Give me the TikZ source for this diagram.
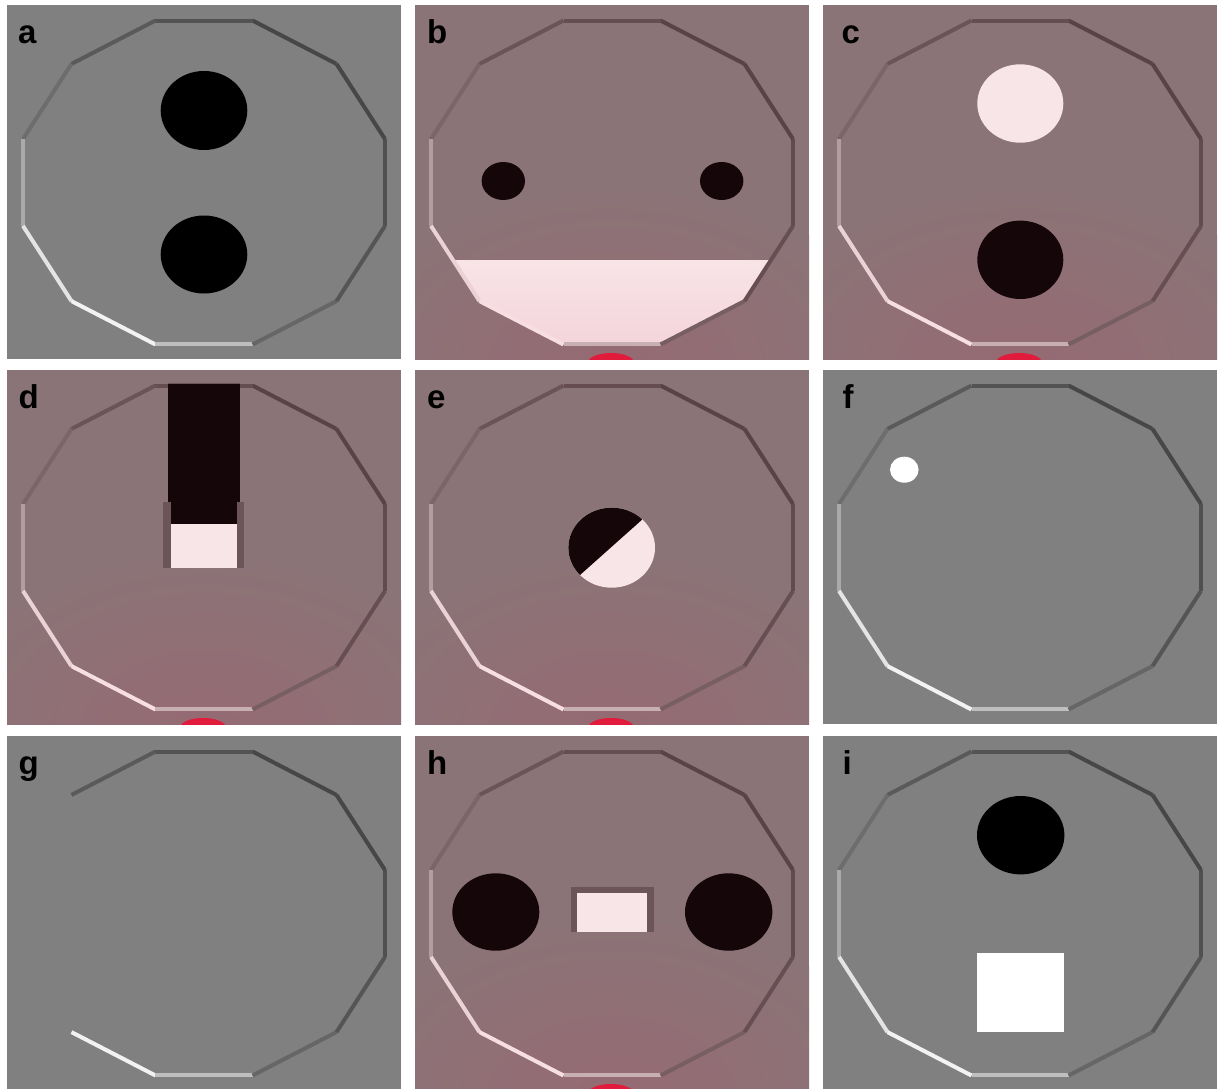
\documentclass[tikz,border=0pt]{standalone}
\usepackage{fontspec}
\setmainfont{Liberation Sans}
\begin{document}
\begin{tikzpicture}[x=1pt,y=-1pt]
\definecolor{bgray}{HTML}{808080}
\definecolor{bpink}{HTML}{8A7477}
\definecolor{glow}{HTML}{966A73}
\definecolor{inkdark}{HTML}{150709}
\definecolor{inklight}{HTML}{F8E5E7}
\definecolor{blobc}{HTML}{E11B3B}
\definecolor{gdark}{HTML}{474747}
\definecolor{glight}{HTML}{F2F2F2}
\definecolor{pdark}{HTML}{5A4246}
\definecolor{plight}{HTML}{F6DEE2}
\definecolor{framec}{HTML}{6B5558}
\definecolor{mouthtop}{HTML}{F8E4E7}
\definecolor{mouthbot}{HTML}{F3D2D9}
\tikzset{
  lbl/.style={anchor=base west, inner sep=0pt, font=\fontsize{33}{33}\selectfont\bfseries},
  rimline/.style={line width=4pt, line cap=butt},
}
\newcommand\rimedges[3]{%
  \foreach \k/\p in #3{
    \draw[rimline, color=#2!\p!#1]
      ({197+187.4*cos(30*\k-15)},{177.5-167.7*sin(30*\k-15)}) --
      ({197+187.4*cos(30*\k+15)},{177.5-167.7*sin(30*\k+15)});
  }}
\newcommand\fullrim{0/5,1/0,2/0,3/7,4/11,5/22,6/58,7/92,8/100,9/70,10/18,11/8}
\newcommand\partrim{0/5,1/0,2/0,3/7,4/11,8/100,9/70,10/18,11/8}
\newcommand\graybg{\fill[bgray] (0,0) rectangle (394,354);}
\newcommand\pinkbg{%
  \begin{scope}
    \clip (0,0) rectangle (394,354);
    \fill[bpink] (0,0) rectangle (394,354);
    \shade[inner color=glow, outer color=bpink] (197,365) ellipse [x radius=280, y radius=190];
  \end{scope}}
\newcommand\blobmark{%
  \begin{scope}
    \clip (0,0) rectangle (394,354);
    \fill[blobc] (196,357) ellipse [x radius=22.5, y radius=9];
  \end{scope}}

\useasboundingbox (0,0) rectangle (1223,1089);
\fill[white] (0,0) rectangle (1223,1089);

% ---------- a ----------
\begin{scope}[shift={(7,5)}]
  \graybg
  \rimedges{gdark}{glight}{\fullrim}
  \fill[black] (197,105.5) ellipse [x radius=43.3, y radius=39.5];
  \fill[black] (197,249.5) ellipse [x radius=43.3, y radius=39];
  \node[lbl] (la) at (11,38.5) {a};
\end{scope}

% ---------- b ----------
\begin{scope}[shift={(415,5)}]
  \pinkbg
  \begin{scope}
    \clip plot[samples at={15,45,...,345}, variable=\t] ({197+187.4*cos(\t)},{177.5-167.7*sin(\t)}) -- cycle;
    \shade[top color=mouthtop, bottom color=mouthbot] (0,255) rectangle (394,354);
  \end{scope}
  \rimedges{pdark}{plight}{\fullrim}
  \fill[inkdark] (88.3,176) ellipse [x radius=21.7, y radius=19];
  \fill[inkdark] (306.7,176) ellipse [x radius=21.7, y radius=19];
  \blobmark
  \node[lbl] (lb) at (12,38.5) {b};
\end{scope}

% ---------- c ----------
\begin{scope}[shift={(823,5)}]
  \pinkbg
  \rimedges{pdark}{plight}{\fullrim}
  \fill[inklight] (197.3,98.5) ellipse [x radius=43, y radius=39.2];
  \fill[inkdark] (197.3,254.8) ellipse [x radius=43, y radius=39.2];
  \blobmark
  \node[lbl] (lc) at (18.5,38.5) {c};
\end{scope}

% ---------- d ----------
\begin{scope}[shift={(7,370)}]
  \pinkbg
  \rimedges{pdark}{plight}{\fullrim}
  \fill[inkdark] (161.3,12.7) rectangle (233,154.3);
  \draw[framec, line width=1pt] (161.3,13.2) -- (233,13.2);
  \fill[inklight] (163.7,154.3) rectangle (230.3,198);
  \fill[framec] (156.3,132.3) rectangle (163.7,198.3);
  \fill[framec] (230.3,132.3) rectangle (237.3,198.3);
  \blobmark
  \node[lbl] (ld) at (11.5,38.5) {d};
\end{scope}

% ---------- e ----------
\begin{scope}[shift={(415,370)}]
  \pinkbg
  \rimedges{pdark}{plight}{\fullrim}
  \fill[inklight] (196.7,177.7) ellipse [x radius=43.3, y radius=40];
  \begin{scope}
    \clip (241.6,136.7) -- (150.1,218.3) -- (96.8,158.5) -- (188.3,76.9) -- cycle;
    \fill[inkdark] (196.7,177.7) ellipse [x radius=43.3, y radius=40];
  \end{scope}
  \blobmark
  \node[lbl] (le) at (12,38.5) {e};
\end{scope}

% ---------- f ----------
\begin{scope}[shift={(823,370)}]
  \graybg
  \rimedges{gdark}{glight}{\fullrim}
  \fill[white] (81.3,99.7) ellipse [x radius=14.3, y radius=13];
  \node[lbl] (lf) at (19.5,38.5) {f};
\end{scope}

% ---------- g ----------
\begin{scope}[shift={(7,736)}]
  \graybg
  \rimedges{gdark}{glight}{\partrim}
  \node[lbl] (lg) at (11.5,38.5) {g};
\end{scope}

% ---------- h ----------
\begin{scope}[shift={(415,736)}]
  \pinkbg
  \rimedges{pdark}{plight}{\fullrim}
  \fill[inkdark] (80.8,176) ellipse [x radius=43.5, y radius=38.7];
  \fill[inkdark] (313.7,176) ellipse [x radius=43.7, y radius=38.7];
  \fill[framec] (155.7,150.7) rectangle (239,196.3);
  \fill[inklight] (161.7,156.7) rectangle (232.3,195.7);
  \blobmark
  \node[lbl] (lh) at (12,38.5) {h};
\end{scope}

% ---------- i ----------
\begin{scope}[shift={(823,736)}]
  \graybg
  \rimedges{gdark}{glight}{\fullrim}
  \fill[black] (197.7,99.2) ellipse [x radius=43.7, y radius=39.2];
  \fill[white] (153.7,217.3) rectangle (241.3,295.7);
  \node[lbl] (li) at (19.5,38.5) {i};
\end{scope}
\end{tikzpicture}
\end{document}
